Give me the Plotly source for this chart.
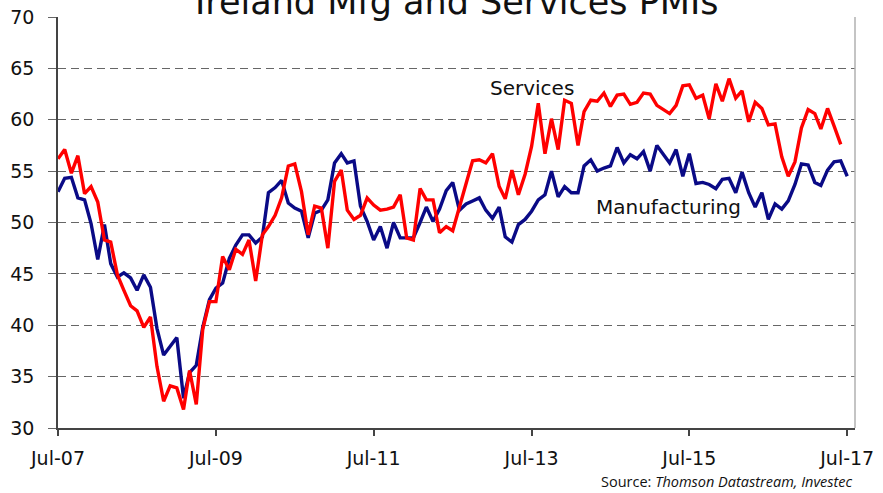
# Ireland manufacturing and services PMIs, monthly Jul-07 to Jul-17

import pandas as pd
import plotly.graph_objects as go

start_month = "2007-07-01"

# manufacturing PMI, Jul-07 .. Jul-17
mfg_pmi = [
    53.0, 54.3, 54.4, 52.4, 52.2, 49.9, 46.4, 49.8, 46.0, 44.7, 45.1, 44.6,
    43.4, 44.9, 43.7, 39.7, 37.1, 37.9, 38.8, 32.9, 35.4, 36.1, 39.8, 42.5,
    43.6, 44.1, 46.5, 47.8, 48.8, 48.8, 48.0, 48.6, 52.9, 53.4, 54.1, 51.9,
    51.4, 51.1, 48.5, 50.9, 51.2, 52.2, 55.8, 56.7, 55.8, 56.0, 51.6, 50.1,
    48.3, 49.6, 47.5, 50.0, 48.5, 48.5, 48.5, 50.0, 51.5, 50.1, 51.3, 53.1,
    53.9, 51.2, 51.8, 52.1, 52.4, 51.2, 50.4, 51.5, 48.6, 48.1, 49.8, 50.3,
    51.1, 52.2, 52.7, 55.0, 52.5, 53.5, 52.9, 52.9, 55.5, 56.1, 55.0, 55.3,
    55.5, 57.3, 55.8, 56.6, 56.2, 56.9, 55.0, 57.5, 56.7, 55.8, 57.1, 54.5,
    56.7, 53.8, 53.9, 53.7, 53.3, 54.2, 54.3, 52.9, 54.9, 52.9, 51.5, 52.9,
    50.3, 51.8, 51.3, 52.1, 53.7, 55.7, 55.6, 53.9, 53.6, 55.1, 55.9, 56.0,
    54.5,
]

# services PMI, Jul-07 .. Jun-17
services_pmi = [
    56.2, 57.1, 54.8, 56.5, 52.8, 53.5, 52.0, 48.3, 48.1, 44.9, 43.4, 41.9,
    41.4, 39.8, 40.8, 36.0, 32.6, 34.1, 33.9, 31.8, 35.6, 32.3, 39.6, 42.3,
    42.3, 46.7, 45.4, 47.4, 46.9, 48.3, 44.3, 48.8, 49.6, 50.7, 52.4, 55.5,
    55.7, 53.0, 48.8, 51.6, 51.4, 47.5, 54.0, 55.1, 51.2, 50.3, 50.7, 52.4,
    51.7, 51.2, 51.3, 51.5, 52.7, 48.5, 48.3, 53.3, 52.2, 52.2, 49.0, 49.6,
    49.2, 51.6, 53.8, 56.0, 56.1, 55.8, 56.7, 53.5, 52.3, 55.1, 52.7, 54.7,
    57.4, 61.6, 56.7, 60.1, 57.1, 61.9, 61.6, 57.5, 60.8, 61.9, 61.8, 62.6,
    61.3, 62.4, 62.5, 61.5, 61.7, 62.6, 62.5, 61.4, 61.0, 60.6, 61.4, 63.3,
    63.4, 62.1, 62.4, 60.1, 63.5, 61.8, 64.0, 62.1, 62.8, 59.8, 61.7, 61.1,
    59.5, 59.6, 56.4, 54.5, 55.9, 59.2, 61.0, 60.6, 59.1, 61.1, 59.4, 57.6,
]

tick_dates = ["2007-07-01", "2009-07-01", "2011-07-01", "2013-07-01", "2015-07-01", "2017-07-01"]
tick_labels = ["Jul-07", "Jul-09", "Jul-11", "Jul-13", "Jul-15", "Jul-17"]

mfg_dates = pd.date_range(start_month, periods=len(mfg_pmi), freq="MS")
svc_dates = pd.date_range(start_month, periods=len(services_pmi), freq="MS")

font_main = "DejaVu Sans"

fig = go.Figure()

fig.add_trace(go.Scatter(
    x=mfg_dates, y=mfg_pmi, mode="lines", name="Manufacturing",
    line=dict(color="#0a0a86", width=3.4),
))
fig.add_trace(go.Scatter(
    x=svc_dates, y=services_pmi, mode="lines", name="Services",
    line=dict(color="#ff0000", width=3.4),
))

# series labels placed on the chart
fig.add_annotation(x="2013-07-05", y=63.1, text="Services", showarrow=False,
                   font=dict(family=font_main, size=20, color="#111"))
fig.add_annotation(x="2015-03-25", y=51.5, text="Manufacturing", showarrow=False,
                   font=dict(family=font_main, size=20, color="#111"))

# title, partly cut off at the top as in the original
fig.add_annotation(xref="paper", yref="paper", x=0.5, y=1, yshift=-7,
                   yanchor="bottom", text="Ireland Mfg and Services PMIs",
                   showarrow=False, font=dict(family=font_main, size=35, color="#111"))

fig.add_annotation(xref="paper", yref="paper", x=1, y=-0.13, xanchor="right",
                   yanchor="middle", showarrow=False,
                   text="Source: <i>Thomson Datastream, Investec</i>",
                   font=dict(family="Open Sans", size=14.5, color="#111"))

# light right border of the plot box
fig.add_shape(type="line", xref="paper", yref="paper", x0=1, x1=1, y0=0, y1=1,
              line=dict(color="#b0b0b0", width=1.5))

fig.update_layout(
    width=883, height=493,
    margin=dict(l=58, r=28, t=17, b=65),
    paper_bgcolor="white", plot_bgcolor="white",
    showlegend=False,
    font=dict(family=font_main, size=19, color="#111"),
    xaxis=dict(
        range=["2007-07-01", "2017-08-06"],
        tickvals=tick_dates, ticktext=tick_labels,
        showgrid=False, zeroline=False, automargin=False,
        showline=True, linecolor="#444", linewidth=1.5,
        ticks="outside", ticklen=6, tickcolor="#444", tickwidth=1.5,
        ticklabelstandoff=6,
    ),
    yaxis=dict(
        range=[30, 70], dtick=5, automargin=False,
        showgrid=True, gridcolor="#666", gridwidth=1.3, griddash="8px,5px",
        zeroline=False,
        showline=True, linecolor="#444", linewidth=1.5,
        ticks="outside", ticklen=8, tickcolor="#666", tickwidth=1.3,
        ticklabelstandoff=10,
    ),
)

# drop the browser's default page margin so the chart sits at the corner
fig.write_html("out.html", config={"displayModeBar": False},
               post_script="document.body.style.margin='0';")
